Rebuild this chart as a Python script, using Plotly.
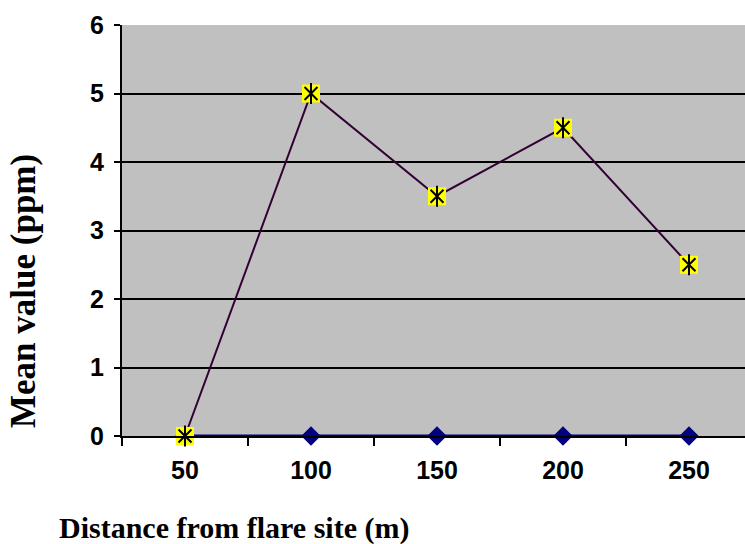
import plotly.graph_objects as go

distances = ["50", "100", "150", "200", "250"]
series_a = [0, 0, 0, 0, 0]
series_b = [0, 5, 3.5, 4.5, 2.5]
y_ticks = [0, 1, 2, 3, 4, 5, 6]

W, H = 745, 544
L, R, T, B = 122, 0, 25, 108
pw = W - L - R
ph = H - T - B

fig = go.Figure()

fig.add_trace(go.Scatter(
    x=distances, y=series_a, mode="lines+markers",
    line=dict(color="#000080", width=3),
    marker=dict(symbol="diamond", size=15, color="#000080"),
    showlegend=False, cliponaxis=False))

fig.add_trace(go.Scatter(
    x=distances, y=series_b, mode="lines",
    line=dict(color="#330033", width=2),
    showlegend=False, cliponaxis=False))
fig.add_trace(go.Scatter(
    x=distances, y=series_b, mode="markers",
    marker=dict(symbol="square", size=18, color="#FFFF00",
                line=dict(width=0)),
    showlegend=False, cliponaxis=False))
fig.add_trace(go.Scatter(
    x=distances, y=series_b, mode="markers",
    marker=dict(symbol="x-thin-open", size=13, color="#000000",
                line=dict(width=2, color="#000000")),
    showlegend=False, cliponaxis=False))
fig.add_trace(go.Scatter(
    x=distances, y=series_b, mode="markers",
    marker=dict(symbol="line-ns-open", size=15, color="#000000",
                line=dict(width=2, color="#000000")),
    showlegend=False, cliponaxis=False))

tick_font = dict(family="Liberation Sans, Arial, sans-serif", size=25, color="#000000")

fig.update_xaxes(
    type="category", range=[-0.5, -0.5 + pw / 126.0],
    tickson="boundaries", ticks="outside", ticklen=8, tickwidth=2, tickcolor="#000000",
    showgrid=False, showline=True, linecolor="#000000", linewidth=2,
    tickfont=tick_font, ticklabelstandoff=11, zeroline=False)

fig.update_yaxes(
    range=[0, 6], tickvals=y_ticks, ticks="outside", ticklen=6, tickwidth=2,
    tickcolor="#000000", showgrid=True, gridcolor="#000000", gridwidth=2,
    showline=True, linecolor="#000000", linewidth=2, zeroline=False,
    tickfont=tick_font, ticklabelstandoff=5)

fig.add_annotation(
    text="<b>Mean value (ppm)</b>", textangle=-90,
    xref="paper", yref="paper",
    x=(23 - L) / pw, y=(T + ph - 291) / ph,
    xanchor="center", yanchor="middle", showarrow=False,
    font=dict(family="Liberation Serif, Times New Roman, serif", size=35, color="#000000"))

fig.add_annotation(
    text="<b>Distance from flare site (m)</b>",
    xref="paper", yref="paper",
    x=(57 - L) / pw, y=(T + ph - 528) / ph,
    xanchor="left", yanchor="middle", showarrow=False,
    font=dict(family="Liberation Serif, Times New Roman, serif", size=30, color="#000000"))

fig.update_layout(
    width=W, height=H,
    margin=dict(l=L, r=R, t=T, b=B),
    paper_bgcolor="#FFFFFF", plot_bgcolor="#C0C0C0",
    font=dict(family="Liberation Sans, Arial, sans-serif", weight="bold"))

fig.write_html("out.html")
